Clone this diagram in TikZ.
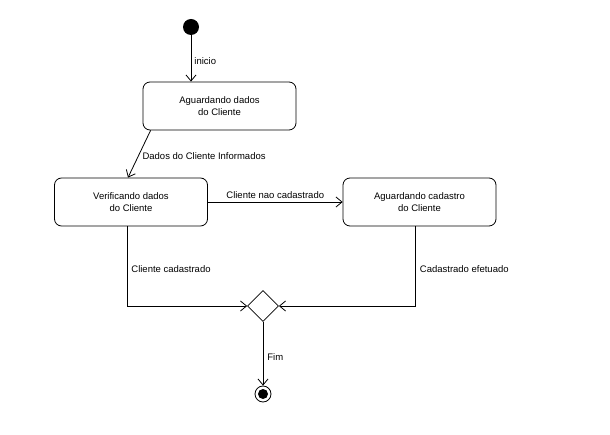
\documentclass[tikz,border=0pt]{standalone}
\usepackage{fontspec}
\setmainfont{Liberation Sans}
\usetikzlibrary{positioning,shapes.geometric,arrows.meta}

\begin{document}
\begin{tikzpicture}[
        x=1pt, y=-1pt,
        estado/.style={
                rectangle,
                rounded corners=7pt,
                draw=black,
                line width=0.8pt,
                align=center,
                minimum width=153pt,
                minimum height=48pt,
                font=\fontsize{9.5}{12.5}\selectfont
            },
        rotulo/.style = {font=\fontsize{9.5}{11}\selectfont, inner sep=0pt, anchor=west},
        inicial/.style = {circle, fill=black, minimum size=16pt, inner sep=0pt},
        final/.style = {circle, draw=black, line width=0.8pt, minimum size=16pt, inner sep=0pt,
                path picture={\fill[black] (path picture bounding box.center) circle (5pt);}},
        decisao/.style = {diamond, draw=black, line width=0.8pt, minimum size=31pt, inner sep=0pt},
        transicao/.style = {->, line width=0.8pt},
        >= {Straight Barb[length=6pt,width=10pt]}
    ]
    \useasboundingbox (0,0) rectangle (610,435);

    \node[inicial] (ini) at (191,27) {};
    \node[estado] (aguard) at (219.5,106) {Aguardando dados\\do Cliente};
    \node[estado] (verif) at (131,202) {Verificando dados\\do Cliente};
    \node[estado] (cadastro) at (419.5,202) {Aguardando cadastro\\do Cliente};
    \node[decisao] (dec) at (263,306) {};
    \node[final] (fim) at (263,394) {};

    \draw[transicao] (ini) -- (ini |- aguard.north) node[rotulo, pos=0.55, xshift=3pt] {inicio};
    \draw[transicao] ([xshift=8pt]aguard.south west) -- ([xshift=-3pt]verif.north) node[rotulo, pos=0.55, xshift=4pt] {Dados do Cliente Informados};
    \draw[transicao] (verif) -- (cadastro) node[rotulo, midway, above=3pt] {Cliente nao cadastrado};
    \draw[transicao] ([xshift=-4pt]verif.south) |- (dec.west) node[rotulo, pos=0.27, xshift=4pt] {Cliente cadastrado};
    \draw[transicao] ([xshift=-4pt]cadastro.south) |- (dec.east) node[rotulo, pos=0.27, xshift=4pt] {Cadastrado efetuado};
    \draw[transicao] (dec) -- (fim) node[rotulo, pos=0.55, xshift=4pt] {Fim};
\end{tikzpicture}
\end{document}
